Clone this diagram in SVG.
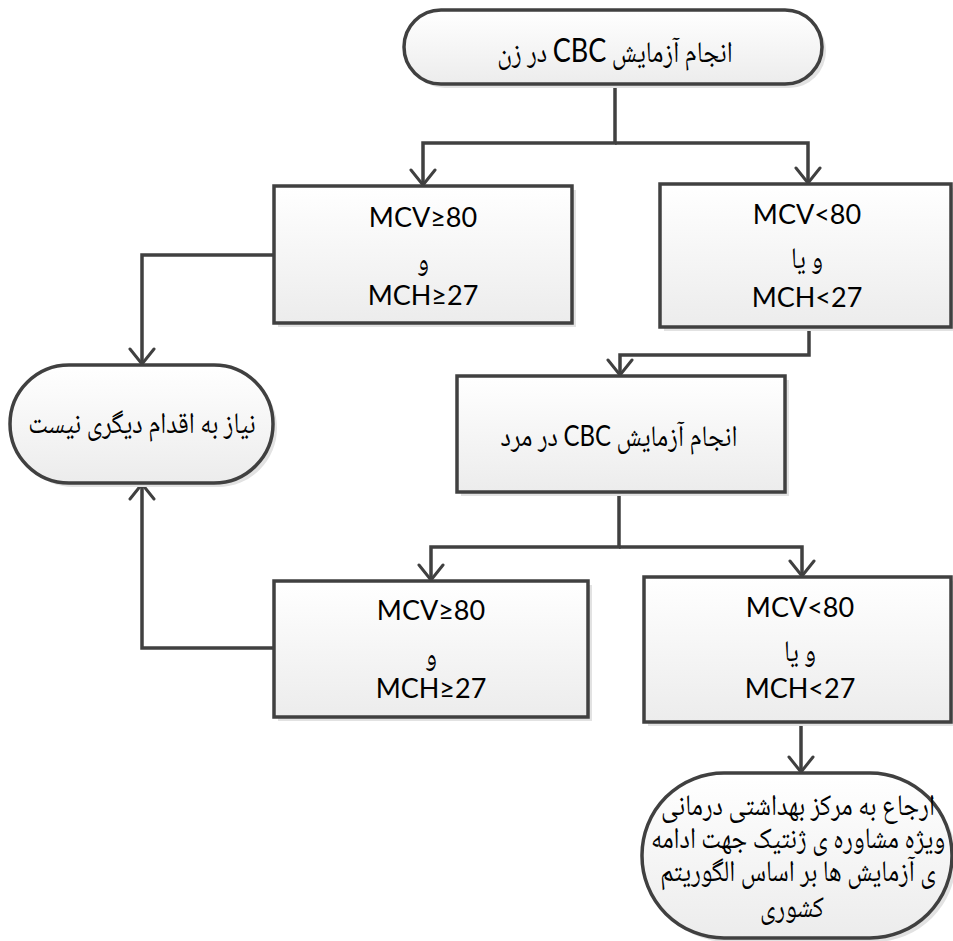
<svg xmlns="http://www.w3.org/2000/svg" width="953" height="941" viewBox="0 0 953 941">
  <defs>
    <linearGradient id="fillGrad" x1="0" y1="0" x2="0" y2="1">
      <stop offset="0" stop-color="#ffffff"/>
      <stop offset="1" stop-color="#ececec"/>
    </linearGradient>
    <marker id="arrow" viewBox="-17 -14 20 28" markerWidth="20" markerHeight="28" refX="0" refY="0" orient="auto" markerUnits="userSpaceOnUse">
      <path d="M-15,-12 L0,0 L-15,12" fill="none" stroke="#404040" stroke-width="3" stroke-linecap="round" stroke-linejoin="round"/>
    </marker>
  </defs>
  <style>
    .shape { fill: url(#fillGrad); stroke: #404040; stroke-width: 3.5; }
    .shadow { fill: #e2e2e2; stroke: none; }
    .conn { fill: none; stroke: #404040; stroke-width: 3.5; marker-end: url(#arrow); }
    .lbl { font-family: Lato, "DejaVu Sans", sans-serif; font-size: 27px; fill: #000; text-anchor: middle; }
    .fa { font-family: "Noto Naskh Arabic", "DejaVu Sans", sans-serif; font-size: 25px; fill: #000; text-anchor: middle; direction: rtl; }
    .lat { font-family: Lato, sans-serif; }
  </style>
  <rect width="953" height="941" fill="#ffffff"/>

  <!-- connectors -->
  <g id="connectors">
    <path class="conn" d="M615,84 V143 H423 V185"/>
    <path class="conn" d="M615,143 H808 V183"/>
    <path class="conn" d="M274,255 H142 V364"/>
    <path class="conn" d="M809,327 V355 H620 V375"/>
    <path class="conn" d="M619,492 V547 H431 V580"/>
    <path class="conn" d="M619,547 H802 V576"/>
    <path class="conn" d="M274,648 H142 V484"/>
    <path class="conn" d="M801,722 V772"/>
  </g>

  <!-- start: CBC test for the woman -->
  <g id="start">
    <rect class="shadow" x="408" y="14" width="418" height="74" rx="37"/>
    <rect class="shape" x="404" y="10" width="418" height="74" rx="37"/>
    <text class="fa" x="615" y="0" transform="translate(0,62) scale(1,1.2)" font-size="27">انجام آزمایش <tspan class="lat" font-size="27">CBC</tspan> در زن</text>
  </g>

  <!-- woman: normal indices -->
  <g id="womanNormal">
    <rect class="shadow" x="278" y="190" width="298" height="137"/>
    <rect class="shape" x="274" y="186" width="298" height="137"/>
    <text class="lbl" x="423" y="227">MCV≥80</text>
    <text class="fa" x="423" y="0" transform="translate(0,270) scale(1,1.2)" font-size="27">و</text>
    <text class="lbl" x="423" y="305">MCH≥27</text>
  </g>

  <!-- woman: low indices -->
  <g id="womanLow">
    <rect class="shadow" x="664" y="188" width="291" height="143"/>
    <rect class="shape" x="660" y="184" width="291" height="143"/>
    <text class="lbl" x="807" y="224">MCV&lt;80</text>
    <text class="fa" x="807" y="0" transform="translate(0,268) scale(1,1.2)" font-size="27">و یا</text>
    <text class="lbl" x="807" y="307">MCH&lt;27</text>
  </g>

  <!-- end: no further action -->
  <g id="noAction">
    <rect class="shadow" x="14" y="369" width="263" height="118" rx="59"/>
    <rect class="shape" x="10" y="365" width="263" height="118" rx="59"/>
    <text class="fa" x="142" y="0" transform="translate(0,433) scale(1,1.2)">نیاز به اقدام دیگری نیست</text>
  </g>

  <!-- CBC test for the man -->
  <g id="manTest">
    <rect class="shadow" x="461" y="380" width="328" height="116"/>
    <rect class="shape" x="457" y="376" width="328" height="116"/>
    <text class="fa" x="619" y="0" transform="translate(0,446) scale(1,1.2)" font-size="27">انجام آزمایش <tspan class="lat" font-size="24">CBC</tspan> در مرد</text>
  </g>

  <!-- man: normal indices -->
  <g id="manNormal">
    <rect class="shadow" x="278" y="585" width="314" height="136"/>
    <rect class="shape" x="274" y="581" width="314" height="136"/>
    <text class="lbl" x="431" y="620">MCV≥80</text>
    <text class="fa" x="431" y="0" transform="translate(0,665) scale(1,1.2)" font-size="27">و</text>
    <text class="lbl" x="431" y="698">MCH≥27</text>
  </g>

  <!-- man: low indices -->
  <g id="manLow">
    <rect class="shadow" x="648" y="581" width="307" height="145"/>
    <rect class="shape" x="644" y="577" width="307" height="145"/>
    <text class="lbl" x="800" y="617">MCV&lt;80</text>
    <text class="fa" x="800" y="0" transform="translate(0,661) scale(1,1.2)" font-size="27">و یا</text>
    <text class="lbl" x="800" y="698">MCH&lt;27</text>
  </g>

  <!-- end: referral for genetic counselling -->
  <g id="referral">
    <rect class="shadow" x="646" y="777" width="310" height="165" rx="82"/>
    <rect class="shape" x="642" y="773" width="310" height="165" rx="82"/>
    <text class="fa" x="798" y="0" transform="translate(0,815) scale(1,1.2)" font-size="26">ارجاع به مرکز بهداشتی درمانی</text>
    <text class="fa" x="798" y="0" transform="translate(0,848) scale(1,1.2)" font-size="26">ویژه مشاوره ی ژنتیک جهت ادامه</text>
    <text class="fa" x="798" y="0" transform="translate(0,881) scale(1,1.2)" font-size="26">ی آزمایش ها بر اساس الگوریتم</text>
    <text class="fa" x="792" y="0" transform="translate(0,917) scale(1,1.2)" font-size="26">کشوری</text>
  </g>
</svg>
